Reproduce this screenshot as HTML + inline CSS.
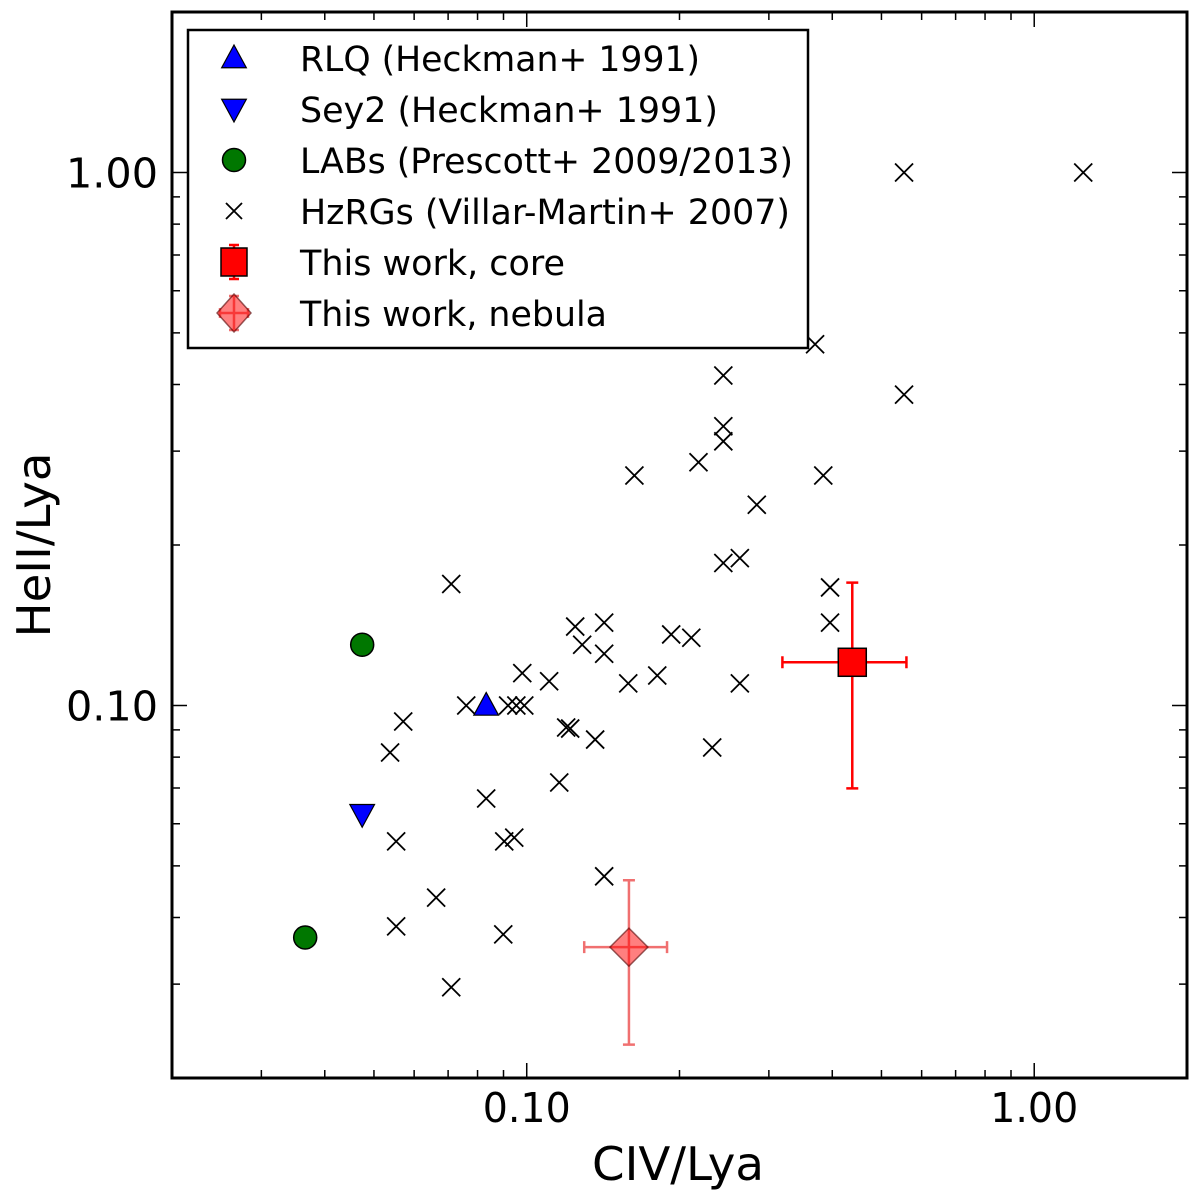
<!DOCTYPE html>
<html><head><meta charset="utf-8"><style>
body{margin:0;background:#fff}
svg{display:block;font-family:"DejaVu Sans","Liberation Sans",sans-serif}
</style></head><body>
<svg id="chart" width="1200" height="1200" viewBox="0 0 1200 1200" xmlns="http://www.w3.org/2000/svg">
<rect width="1200" height="1200" fill="#fff"/>
<g id="marks"></g>
<g id="axes"></g>
<g id="legend"></g>
</svg>
<script>
const hzrgX=[0.554,1.249,0.370,0.554,0.244,0.244,0.244,0.218,0.163,0.384,0.284,0.244,0.263,0.396,0.396,0.0710,0.1246,0.1421,0.1286,0.1421,0.1926,0.211,0.0980,0.1107,0.1585,0.1808,0.263,0.0760,0.0919,0.0954,0.0989,0.0571,0.1196,0.1218,0.1364,0.232,0.0538,0.1159,0.0832,0.0903,0.0945,0.0553,0.1421,0.0663,0.0553,0.0899,0.0710];
const hzrgY=[1.0,1.0,0.476,0.383,0.416,0.334,0.313,0.286,0.270,0.270,0.238,0.185,0.189,0.1665,0.143,0.169,0.1406,0.143,0.130,0.125,0.1359,0.134,0.115,0.111,0.110,0.1138,0.110,0.1,0.1,0.1,0.1,0.0933,0.0909,0.0905,0.0863,0.0834,0.0816,0.0717,0.0669,0.0556,0.0565,0.0556,0.0478,0.0436,0.0385,0.0372,0.0296];
const rlqX=[0.0832], rlqY=[0.1];
const sey2X=[0.0474], sey2Y=[0.0625];
const labX=[0.0474,0.0366], labY=[0.130,0.0367];
const coreX=[0.438], coreY=[0.1205], coreXlo=[0.319], coreXhi=[0.560], coreYlo=[0.0699], coreYhi=[0.170];
const nebX=[0.159], nebY=[0.0352], nebXlo=[0.1298], nebXhi=[0.189], nebYlo=[0.0231], nebYhi=[0.047];
const xTickVals=[0.1,1.0], xTickLabels=["0.10","1.00"];
const yTickVals=[0.1,1.0], yTickLabels=["0.10","1.00"];
const legendLabels=["RLQ (Heckman+ 1991)","Sey2 (Heckman+ 1991)","LABs (Prescott+ 2009/2013)","HzRGs (Villar-Martin+ 2007)","This work, core","This work, nebula"];

const L=172,R=1187,T=12,B=1078;
const lo=Math.log10(0.02), hi=Math.log10(2);
function sx(v){return L+(Math.log10(v)-lo)/(hi-lo)*(R-L);}
function sy(v){return B-(Math.log10(v)-lo)/(hi-lo)*(B-T);}
const NS="http://www.w3.org/2000/svg";
function mk(tag,attrs,parent){const e=document.createElementNS(NS,tag);for(const k in attrs)e.setAttribute(k,attrs[k]);parent.appendChild(e);return e;}
const marks=document.getElementById('marks'), axes=document.getElementById('axes'), leg=document.getElementById('legend');

function cross(g,x,y,s){return mk('path',{d:`M${x-s} ${y-s}L${x+s} ${y+s}M${x-s} ${y+s}L${x+s} ${y-s}`,stroke:'#000','stroke-width':1.8,fill:'none'},g);}
function triUp(g,x,y,s,c){return mk('path',{d:`M${x} ${y-s}L${x+s*0.95} ${y+s*0.75}L${x-s*0.95} ${y+s*0.75}Z`,fill:c,stroke:'#000','stroke-width':1.2},g);}
function triDn(g,x,y,s,c){return mk('path',{d:`M${x} ${y+s}L${x+s*0.95} ${y-s*0.75}L${x-s*0.95} ${y-s*0.75}Z`,fill:c,stroke:'#000','stroke-width':1.2},g);}
function errbar(g,x,y,x1,x2,y1,y2,c,cap){
  mk('path',{d:`M${x1} ${y}L${x2} ${y}M${x} ${y1}L${x} ${y2}M${x1} ${y-cap}L${x1} ${y+cap}M${x2} ${y-cap}L${x2} ${y+cap}M${x-cap} ${y1}L${x+cap} ${y1}M${x-cap} ${y2}L${x+cap} ${y2}`,stroke:c,'stroke-width':2.5,fill:'none'},g);
}

hzrgX.forEach((v,i)=>{const p=cross(marks,sx(v),sy(hzrgY[i]),9);

});
labX.forEach((v,i)=>{const c=mk('circle',{cx:sx(v),cy:sy(labY[i]),r:11.5,fill:'#007700',stroke:'#000','stroke-width':1.5},marks);

});
rlqX.forEach((v,i)=>{const p=triUp(marks,sx(v),sy(rlqY[i]),13,'#0000ff');

});
sey2X.forEach((v,i)=>{const p=triDn(marks,sx(v),sy(sey2Y[i]),13,'#0000ff');

});
coreX.forEach((v,i)=>{const g=mk('g',{},marks);


const x=sx(v),y=sy(coreY[i]);
errbar(g,x,y,sx(coreXlo[i]),sx(coreXhi[i]),sy(coreYhi[i]),sy(coreYlo[i]),'#ff0000',6);
mk('rect',{x:x-14,y:y-14,width:28,height:28,fill:'#ff0000',stroke:'#000','stroke-width':1.5},g);});
nebX.forEach((v,i)=>{const g=mk('g',{},marks);


const x=sx(v),y=sy(nebY[i]);
errbar(g,x,y,sx(nebXlo[i]),sx(nebXhi[i]),sy(nebYhi[i]),sy(nebYlo[i]),'#f07070',6);
mk('path',{d:`M${x} ${y-19}L${x+19} ${y}L${x} ${y+19}L${x-19} ${y}Z`,fill:'rgba(255,0,0,0.5)',stroke:'rgba(80,0,0,0.6)','stroke-width':1.5},g);});

const fr=mk('rect',{x:L,y:T,width:R-L,height:B-T,fill:'none',stroke:'#000','stroke-width':3},axes);


let td='';
for(let d=-2;d<=0;d++){for(let m=1;m<=9;m++){const v=m*Math.pow(10,d);if(v<0.02||v>2)continue;
 const len=(m===1)?15:8;
 const x=sx(v),y=sy(v);
 td+=`M${x} ${B}L${x} ${B-len}M${x} ${T}L${x} ${T+len}M${L} ${y}L${L+len} ${y}M${R} ${y}L${R-len} ${y}`;}}
mk('path',{d:td,stroke:'#000','stroke-width':1.5,fill:'none'},axes);
xTickVals.forEach((v,i)=>{const t=mk('text',{x:sx(v),y:1122,'font-size':41,'text-anchor':'middle','textLength':88,'lengthAdjust':'spacingAndGlyphs'},axes);t.textContent=xTickLabels[i];

});
yTickVals.forEach((v,i)=>{const t=mk('text',{x:L-14,y:sy(v)+15,'font-size':41,'text-anchor':'end','textLength':92,'lengthAdjust':'spacingAndGlyphs'},axes);t.textContent=yTickLabels[i];

});
const xl=mk('text',{x:678,y:1180,'font-size':46,'text-anchor':'middle','textLength':172,'lengthAdjust':'spacingAndGlyphs'},axes);xl.textContent='CIV/Lya';


const yl=mk('text',{x:0,y:0,'font-size':46,'text-anchor':'middle','textLength':185,'lengthAdjust':'spacingAndGlyphs',transform:`translate(50 ${545}) rotate(-90)`},axes);yl.textContent='HeII/Lya';



const legW=[400,418,493,490,265,307];
const lb=mk('rect',{x:188,y:30,width:620,height:318,fill:'#fff',stroke:'#000','stroke-width':2.5},leg);


legendLabels.forEach((s,i)=>{const cy=58+i*51,mx=234;
 const g=mk('g',{},leg);
 
 
 if(i===0)triUp(g,mx,cy,13,'#0000ff');
 else if(i===1)triDn(g,mx,cy,13,'#0000ff');
 else if(i===2)mk('circle',{cx:mx,cy:cy,r:11.5,fill:'#007700',stroke:'#000','stroke-width':1.5},g);
 else if(i===3)cross(g,mx,cy,8);
 else if(i===4){errbar(g,mx,cy,mx-12,mx+12,cy-17,cy+17,'#ff0000',5);mk('rect',{x:mx-13,y:cy-14,width:26,height:28,fill:'#ff0000',stroke:'#000','stroke-width':1.5},g);}
 else {errbar(g,mx,cy,mx-14,mx+14,cy-17,cy+17,'#f07070',5);mk('path',{d:`M${mx} ${cy-19}L${mx+17} ${cy}L${mx} ${cy+19}L${mx-17} ${cy}Z`,fill:'rgba(255,0,0,0.5)',stroke:'rgba(80,0,0,0.6)','stroke-width':1.5},g);}
 const t=mk('text',{x:300,y:cy+13,'font-size':35,'textLength':legW[i],'lengthAdjust':'spacingAndGlyphs'},g);t.textContent=s;});
</script>
</body></html>
